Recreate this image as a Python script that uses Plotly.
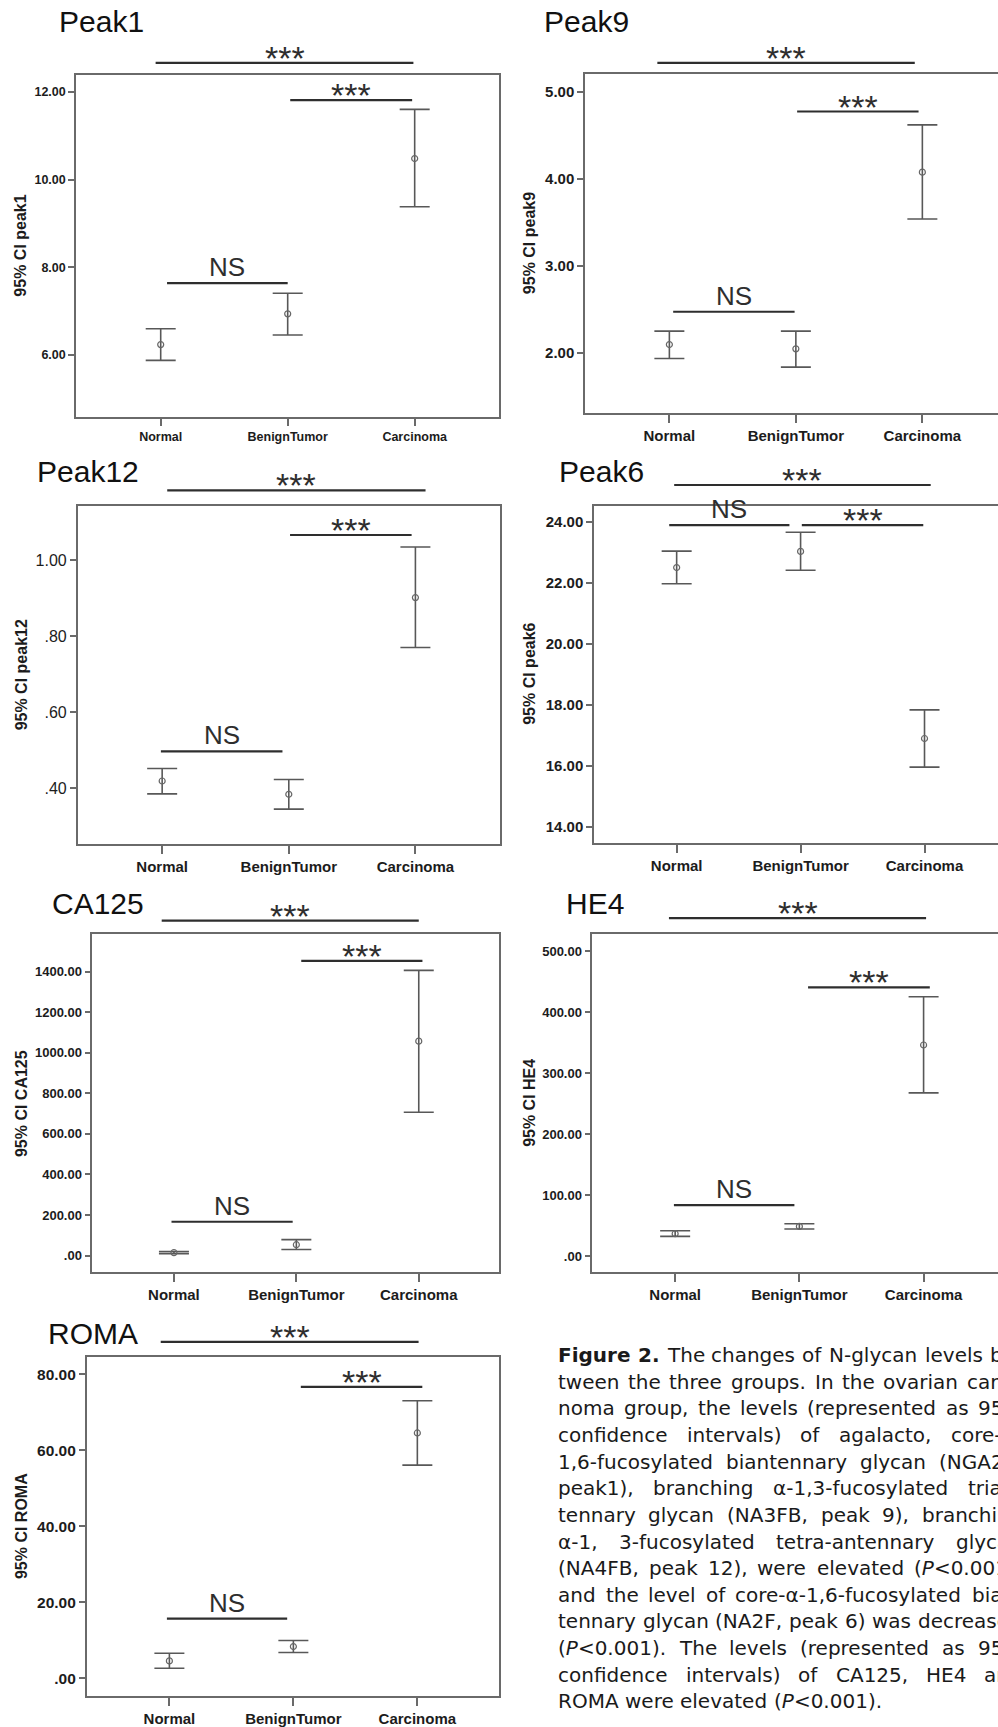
import plotly.graph_objects as go

W, H = 998, 1727

categories = ["Normal", "BenignTumor", "Carcinoma"]

# ---- data (95% CI: mean, upper, lower) ----
peak1_mean = [6.24, 6.94, 10.48]
peak1_upper = [6.60, 7.41, 11.60]
peak1_lower = [5.88, 6.46, 9.38]

peak9_mean = [2.095, 2.046, 4.077]
peak9_upper = [2.25, 2.25, 4.62]
peak9_lower = [1.935, 1.836, 3.538]

peak12_mean = [0.419, 0.384, 0.901]
peak12_upper = [0.452, 0.423, 1.034]
peak12_lower = [0.385, 0.345, 0.770]

peak6_mean = [22.51, 23.04, 16.90]
peak6_upper = [23.05, 23.67, 17.84]
peak6_lower = [21.98, 22.42, 15.96]

ca125_mean = [15, 54, 1057]
ca125_upper = [20, 79, 1406]
ca125_lower = [10, 30, 707]

he4_mean = [36.5, 48.5, 346.3]
he4_upper = [41.4, 52.8, 425.4]
he4_lower = [32.1, 44.2, 267.7]

roma_mean = [4.62, 8.39, 64.6]
roma_upper = [6.64, 9.97, 73.08]
roma_lower = [2.70, 6.82, 56.13]

# tick labels
peak1_ticks = [6, 8, 10, 12]
peak1_ticktext = ["6.00", "8.00", "10.00", "12.00"]
peak9_ticks = [2, 3, 4, 5]
peak9_ticktext = ["2.00", "3.00", "4.00", "5.00"]
peak12_ticks = [0.4, 0.6, 0.8, 1.0]
peak12_ticktext = [".40", ".60", ".80", "1.00"]
peak6_ticks = [14, 16, 18, 20, 22, 24]
peak6_ticktext = ["14.00", "16.00", "18.00", "20.00", "22.00", "24.00"]
ca125_ticks = [0, 200, 400, 600, 800, 1000, 1200, 1400]
ca125_ticktext = [".00", "200.00", "400.00", "600.00", "800.00", "1000.00", "1200.00", "1400.00"]
he4_ticks = [0, 100, 200, 300, 400, 500]
he4_ticktext = [".00", "100.00", "200.00", "300.00", "400.00", "500.00"]
roma_ticks = [0, 20, 40, 60, 80]
roma_ticktext = [".00", "20.00", "40.00", "60.00", "80.00"]

# significance brackets: (x_from, x_to, y_value, label)
peak1_sig = [(-0.04, 1.99, 12.66, "***"), (1.02, 1.98, 11.81, "***"), (0.05, 1.00, 7.64, "NS")]
peak9_sig = [(-0.095, 1.94, 5.333, "***"), (1.01, 1.97, 4.774, "***"), (0.03, 0.99, 2.472, "NS")]
peak12_sig = [(0.04, 2.08, 1.183, "***"), (1.01, 1.97, 1.0655, "***"), (-0.01, 0.95, 0.497, "NS")]
peak6_sig = [(-0.02, 2.05, 25.22, "***"), (1.01, 1.99, 23.90, "***"), (-0.06, 0.91, 23.90, "NS")]
ca125_sig = [(-0.10, 2.00, 1650.7, "***"), (1.04, 2.03, 1452.7, "***"), (-0.02, 0.97, 167, "NS")]
he4_sig = [(-0.05, 2.02, 554.6, "***"), (1.07, 2.05, 441.0, "***"), (-0.01, 0.96, 83.4, "NS")]
roma_sig = [(-0.07, 2.01, 88.55, "***"), (1.06, 2.04, 76.75, "***"), (-0.02, 0.95, 15.74, "NS")]

caption_lines = [
    "<b>Figure</b> <b>2.</b> The changes of N-glycan levels be-",
    "tween the three groups. In the ovarian carci-",
    "noma group, the levels (represented as 95%",
    "confidence intervals) of agalacto, core-α-",
    "1,6-fucosylated biantennary glycan (NGA2F,",
    "peak1), branching α-1,3-fucosylated trian-",
    "tennary glycan (NA3FB, peak 9), branching",
    "α-1, 3-fucosylated tetra-antennary glycan",
    "(NA4FB, peak 12), were elevated (<i>P</i><0.001),",
    "and the level of core-α-1,6-fucosylated bian-",
    "tennary glycan (NA2F, peak 6) was decreased",
    "(<i>P</i><0.001). The levels (represented as 95%",
    "confidence intervals) of CA125, HE4 and",
    "ROMA were elevated (<i>P</i><0.001).",
]

# ---- layout of panels (pixel boxes: left, top, right, bottom) ----
panels = [
    dict(title="Peak1", ytitle="95% CI peak1", mean=peak1_mean, up=peak1_upper, lo=peak1_lower,
         box=(76, 75, 499, 418), xr=2.664, yr=(4.60, 12.39), tv=peak1_ticks, tt=peak1_ticktext,
         sig=peak1_sig, title_pos=(56.7, 21.7), ytitle_x=21, xfs=12.5, yfs=12.5, ybold=True),
    dict(title="Peak9", ytitle="95% CI peak9", mean=peak9_mean, up=peak9_upper, lo=peak9_lower,
         box=(585, 74.7, 998, 414.3), xr=2.598, yr=(1.31, 5.20), tv=peak9_ticks, tt=peak9_ticktext,
         sig=peak9_sig, title_pos=(541.7, 21.7), ytitle_x=529.5, xfs=15, yfs=15, ybold=True),
    dict(title="Peak12", ytitle="95% CI peak12", mean=peak12_mean, up=peak12_upper, lo=peak12_lower,
         box=(77.7, 507.3, 500, 846.7), xr=2.668, yr=(0.254, 1.143), tv=peak12_ticks, tt=peak12_ticktext,
         sig=peak12_sig, title_pos=(35, 473.3), ytitle_x=21.7, xfs=15, yfs=16, ybold=False),
    dict(title="Peak6", ytitle="95% CI peak6", mean=peak6_mean, up=peak6_upper, lo=peak6_lower,
         box=(594, 507.3, 998, 846), xr=2.593, yr=(13.467, 24.546), tv=peak6_ticks, tt=peak6_ticktext,
         sig=peak6_sig, title_pos=(557.3, 473.3), ytitle_x=529.5, xfs=15, yfs=15, ybold=True),
    dict(title="CA125", ytitle="95% CI CA125", mean=ca125_mean, up=ca125_upper, lo=ca125_lower,
         box=(92.3, 937.7, 499.3, 1276.7), xr=2.658, yr=(-82, 1583), tv=ca125_ticks, tt=ca125_ticktext,
         sig=ca125_sig, title_pos=(50, 906.7), ytitle_x=21.7, xfs=15, yfs=13, ybold=True),
    dict(title="HE4", ytitle="95% CI HE4", mean=he4_mean, up=he4_upper, lo=he4_lower,
         box=(592.3, 937.7, 998, 1276.7), xr=2.599, yr=(-26.8, 527.8), tv=he4_ticks, tt=he4_ticktext,
         sig=he4_sig, title_pos=(564, 906.7), ytitle_x=529.5, xfs=15, yfs=13, ybold=True),
    dict(title="ROMA", ytitle="95% CI ROMA", mean=roma_mean, up=roma_upper, lo=roma_lower,
         box=(86.7, 1361.7, 499.3, 1701.7), xr=2.661, yr=(-4.56, 84.6), tv=roma_ticks, tt=roma_ticktext,
         sig=roma_sig, title_pos=(45.7, 1338.3), ytitle_x=21.7, xfs=15, yfs=15.5, ybold=True),
]

FONT = "Liberation Sans, Arial, sans-serif"
CAP_FONT = "DejaVu Sans, sans-serif"
AXIS_COLOR = "#6a6a6a"
BAR_COLOR = "#585858"
SIG_COLOR = "#2e2e2e"
TEXT_COLOR = "#1c1c1c"

fig = go.Figure()
shapes = []
annotations = []
layout_axes = {}

for i, p in enumerate(panels, start=1):
    sfx = "" if i == 1 else str(i)
    xname, yname = f"x{sfx}", f"y{sfx}"
    left, top, right, bottom = p["box"]
    xs = list(range(len(categories)))
    err_up = [u - m for u, m in zip(p["up"], p["mean"])]
    err_lo = [m - l for m, l in zip(p["mean"], p["lo"])]
    fig.add_trace(go.Scatter(
        x=xs, y=p["mean"], mode="markers", xaxis=xname, yaxis=yname, showlegend=False,
        marker=dict(symbol="circle-open", size=6, color="#666666", line=dict(width=1.2)),
        error_y=dict(type="data", symmetric=False, array=err_up, arrayminus=err_lo,
                     width=15, thickness=1.6, color=BAR_COLOR),
        cliponaxis=False, hoverinfo="skip",
    ))
    right_visible = right < W - 1
    layout_axes[f"xaxis{sfx}"] = dict(
        domain=[left / W, min(1.0, right / W)], anchor=yname, range=[-0.667, p["xr"]],
        tickvals=xs, ticktext=categories, ticks="outside", ticklen=8, tickwidth=1.5,
        tickcolor=AXIS_COLOR, showline=True, linecolor=AXIS_COLOR, linewidth=1.5,
        mirror=True, showgrid=False, zeroline=False, fixedrange=True,
        tickfont=dict(family=FONT, size=p["xfs"], color=TEXT_COLOR, weight="bold"),
    )
    layout_axes[f"yaxis{sfx}"] = dict(
        domain=[1 - bottom / H, 1 - top / H], anchor=xname, range=list(p["yr"]),
        tickvals=p["tv"], ticktext=p["tt"], ticks="outside", ticklen=6, tickwidth=1.5,
        tickcolor=AXIS_COLOR, showline=True, linecolor=AXIS_COLOR, linewidth=1.5,
        mirror=True if right_visible else False, showgrid=False, zeroline=False, fixedrange=True,
        tickfont=dict(family=FONT, size=p["yfs"], color=TEXT_COLOR,
                      weight="bold" if p["ybold"] else "normal"),
    )
    r0, r1 = p["yr"]
    for (a, b, v, lab) in p["sig"]:
        fy = (v - r0) / (r1 - r0)
        shapes.append(dict(type="line", xref=xname, yref=f"{yname} domain",
                           x0=a, x1=b, y0=fy, y1=fy,
                           line=dict(color=SIG_COLOR, width=2.2), layer="above"))
        if lab == "***":
            annotations.append(dict(xref=xname, yref=f"{yname} domain", x=(a + b) / 2, y=fy,
                                    text="***", showarrow=False, xanchor="center",
                                    yanchor="middle", yshift=5,
                                    font=dict(family=FONT, size=34, color=SIG_COLOR)))
        else:
            annotations.append(dict(xref=xname, yref=f"{yname} domain", x=(a + b) / 2, y=fy,
                                    text=lab, showarrow=False, xanchor="center",
                                    yanchor="middle", yshift=16,
                                    font=dict(family=FONT, size=26, color=SIG_COLOR)))
    tx, ty = p["title_pos"]
    annotations.append(dict(xref="paper", yref="paper", x=tx / W, y=1 - ty / H,
                            text=p["title"], showarrow=False, xanchor="left", yanchor="middle",
                            font=dict(family=FONT, size=30, color="#111111")))
    annotations.append(dict(xref="paper", yref="paper", x=p["ytitle_x"] / W,
                            y=1 - (top + bottom) / 2 / H, text=p["ytitle"], textangle=-90,
                            showarrow=False, xanchor="center", yanchor="middle",
                            font=dict(family=FONT, size=16, color=TEXT_COLOR, weight="bold")))

# ---- caption, justified word by word (approximate DejaVu Sans advance widths, em) ----
_w = {
    " ": .318, "a": .613, "b": .635, "c": .550, "d": .635, "e": .615, "f": .352, "g": .635,
    "h": .634, "i": .278, "j": .278, "k": .579, "l": .278, "m": .974, "n": .634, "o": .612,
    "p": .635, "q": .635, "r": .411, "s": .521, "t": .392, "u": .634, "v": .592, "w": .818,
    "x": .592, "y": .592, "z": .525, "A": .684, "B": .686, "C": .698, "D": .770, "E": .632,
    "F": .575, "G": .775, "H": .752, "I": .295, "M": .863, "N": .748, "O": .787, "P": .603,
    "R": .695, "S": .635, "T": .611, ".": .318, ",": .318, "-": .361, "(": .390, ")": .390,
    "%": .950, "<": .838, "α": .659,
}
_wb = {"F": .683, "i": .343, "g": .716, "u": .712, "r": .493, "e": .678, "2": .696, ".": .380}


def word_width(word, size):
    bold = word.startswith("<b>")
    plain = word.replace("<b>", "").replace("</b>", "").replace("<i>", "").replace("</i>", "")
    total = 0.0
    for ch in plain:
        if bold:
            total += _wb.get(ch, .7)
        elif ch.isdigit():
            total += .636
        else:
            total += _w.get(ch, .6)
    return total * size


CAP_SIZE = 20
cap_left = 556
cap_right = 1020
cap_y0 = 1360
cap_dy = 26.7
for k, line in enumerate(caption_lines):
    words = line.split(" ")
    widths = [word_width(wd, CAP_SIZE) for wd in words]
    natural_gap = _w[" "] * CAP_SIZE
    last = k == len(caption_lines) - 1
    if not last and len(words) > 1:
        gap = (cap_right - cap_left - sum(widths)) / (len(words) - 1)
        gap = max(gap, natural_gap)
    else:
        gap = natural_gap
    xpos = cap_left
    ypix = cap_y0 + k * cap_dy
    for wd, ww in zip(words, widths):
        annotations.append(dict(xref="paper", yref="paper", x=xpos / W, y=1 - ypix / H,
                                text=wd, showarrow=False, xanchor="left", yanchor="middle",
                                font=dict(family=CAP_FONT, size=CAP_SIZE, color="#1a1a1a")))
        xpos += ww + gap

fig.update_layout(
    width=W, height=H, margin=dict(l=0, r=0, t=0, b=0),
    paper_bgcolor="white", plot_bgcolor="white",
    shapes=shapes, annotations=annotations, showlegend=False,
    **layout_axes,
)

fig.write_html("out.html", config={"displayModeBar": False},
               post_script="document.body.style.margin='0px';")
